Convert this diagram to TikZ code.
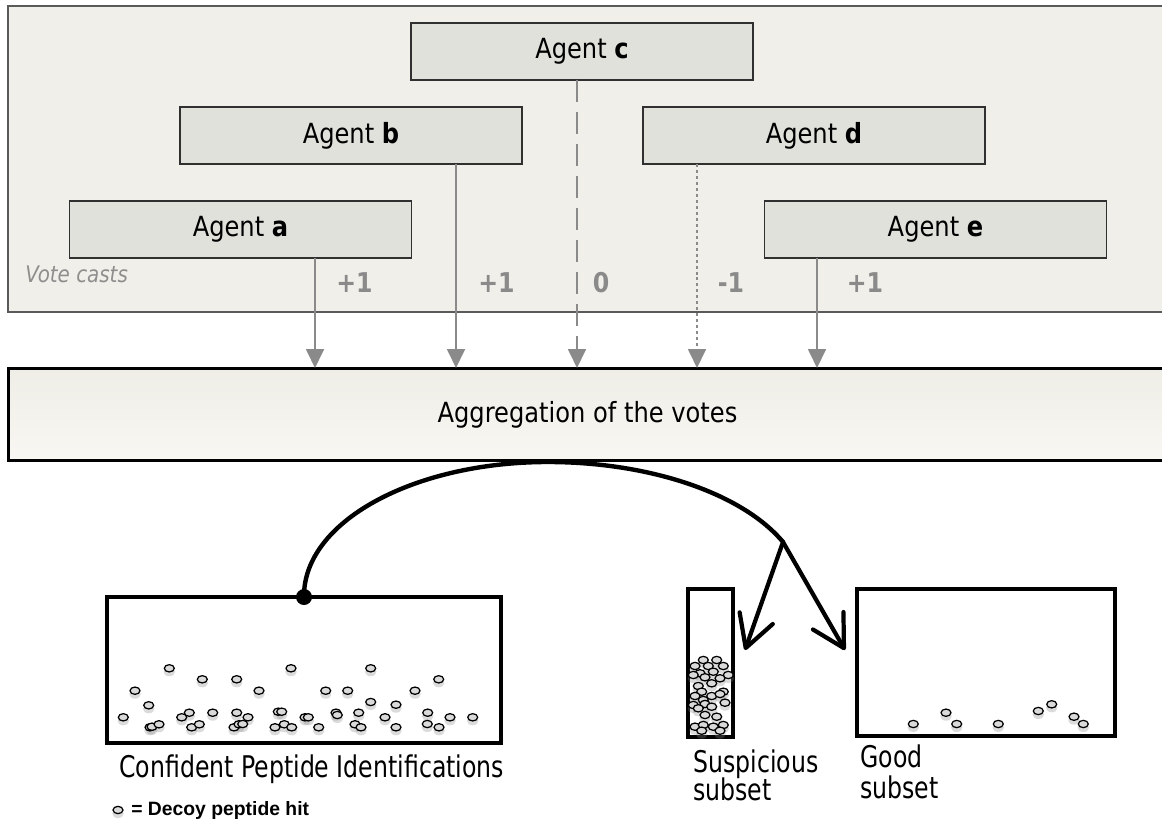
\documentclass[tikz,border=0pt]{standalone}
\usepackage{fontspec}
\setmainfont{DejaVu Sans}
\newfontfamily\topfont{DejaVu Sans}[FakeStretch=0.87]
\newfontfamily\botfont{DejaVu Sans}[FakeStretch=0.79]
\newfontfamily\legfont{Liberation Sans}
\usetikzlibrary{arrows.meta}
\definecolor{panelfill}{HTML}{F0EFE9}
\definecolor{panelline}{HTML}{5A5A5A}
\definecolor{agentfill}{HTML}{E1E1DC}
\definecolor{agentline}{HTML}{303030}
\definecolor{votegray}{HTML}{8A8A8A}
\definecolor{aggtop}{HTML}{EEEDE6}
\definecolor{aggbot}{HTML}{F8F7F3}
\definecolor{dotfill}{HTML}{DADADA}
\definecolor{dotshadow}{HTML}{8A8A8A}
\definecolor{castgray}{HTML}{8E8E8E}
\def\confdots{169.3/668.3,291/668.3,370.7/668.3,202.3/679.3,236.7/679.3,438.7/679.3,135/690.7,259/690.7,325.7/690.7,347.7/690.7,415/690.7,148.7/705.3,370.7/702,396/704.7,123.3/717.3,181.7/717.3,189.3/712.7,212.7/712.7,236.7/712.7,248/717.3,278.3/711.7,281.7/711.7,305/717.3,308.3/717.3,336/712.7,337.3/715,358.7/712.7,385/717.3,427.7/712.7,450/717.3,472.7/717.3,150/727.3,152/726.7,159/724.3,191.7/727.3,199.3/724.3,234/727.3,239/724.3,242.7/724,275/727.3,284.3/724.3,291.7/727.3,318.7/727.3,355/724.3,361/727.3,396/727.3,427.3/724,439/727.3}
\def\suspdots{703.3/660,716.7/660,695/666,708.3/666,723.3/666,700/673.3,713.3/671.7,693.3/675,705/677.3,728.3/675,720/678.3,698.3/686,711.7/683.3,701.7/691.7,723.3/691.7,695/696,711.7/696,720/694,703.3/700,693.3/705,705/704,725/702.7,698.3/708.3,711.7/706.7,705/715,716.7/716.7,695/726.7,703.3/725,713.3/726.7,723.3/725,701.7/730.7,720/730.7}
\def\gooddots{913.3/724,946/712.7,956.7/724,998.3/724,1038.3/711,1051.7/704.3,1074/716.7,1083.3/724}
\begin{document}
\begin{tikzpicture}[x=0.02cm,y=-0.02cm,
 panel/.style={draw=panelline, line width=0.85pt, fill=panelfill, inner sep=0pt, outer sep=0pt, minimum width=23.2cm, minimum height=6.12cm},
 agent/.style={draw=agentline, line width=0.85pt, fill=agentfill, inner sep=0pt, outer sep=0pt, minimum width=6.84cm, minimum height=1.14cm, font=\topfont\fontsize{15.8}{18}\selectfont},
 vote/.style={draw=votegray, line width=1.13pt, -{Triangle[length=10.8pt,width=10.2pt]}},
 votelbl/.style={text=votegray, font=\topfont\bfseries\fontsize{15.5}{18}\selectfont, inner sep=0pt, anchor=base},
 aggbox/.style={draw=black, line width=1.7pt, top color=aggtop, bottom color=aggbot, inner sep=0pt, outer sep=0pt, minimum width=23.18cm, minimum height=1.86cm, font=\topfont\fontsize{15.8}{18}\selectfont},
 setbox/.style={draw=black, line width=2.27pt, inner sep=0pt, outer sep=0pt},
 curveln/.style={line width=2.5pt, black, line cap=round},
 branch/.style={line width=2.4pt, line cap=round, -{Straight Barb[length=18pt,width=20pt,line cap=round,round]}},
 lbl/.style={font=\botfont\fontsize{17}{20}\selectfont, inner sep=0pt, anchor=base west},
 shadowa/.style={fill=dotshadow, opacity=0.3},
 decoydot/.style={draw=black, line width=0.7pt, fill=dotfill},
]
\useasboundingbox (0,0) rectangle (1162,827);
\clip (0,0) rectangle (1162,827);
\fill[white] (0,0) rectangle (1162,827);

% vote casting panel
\node[panel] (panel) at (588,159) {};
\node[agent] (agC) at (582,51.5) {Agent \textbf{c}};
\node[agent] (agB) at (351,135.5) {Agent \textbf{b}};
\node[agent] (agD) at (814,135.5) {Agent \textbf{d}};
\node[agent] (agA) at (240.5,229.5) {Agent \textbf{a}};
\node[agent] (agE) at (935.5,229.5) {Agent \textbf{e}};
\node[anchor=base west, text=castgray, inner sep=0pt, font=\topfont\itshape\fontsize{13}{15}\selectfont] (casts) at (25,283) {Vote casts};

% aggregation
\node[aggbox] (agg) at (587.5,414.5) {Aggregation of the votes};

% votes
\coordinate (xA) at (315,0);
\coordinate (xB) at (456,0);
\coordinate (xC) at (577,0);
\coordinate (xD) at (697,0);
\coordinate (xE) at (817,0);
\draw[vote] (agA.south -| xA) -- (agg.north -| xA);
\draw[vote] (agB.south -| xB) -- (agg.north -| xB);
\draw[vote, dash pattern=on 12.5pt off 5.7pt] (agC.south -| xC) -- (agg.north -| xC);
\draw[vote, dash pattern=on 1.7pt off 1.7pt] (agD.south -| xD) -- (agg.north -| xD);
\draw[vote] (agE.south -| xE) -- (agg.north -| xE);
\node[votelbl] (vA) at (354.5,293) {+1};
\node[votelbl] (vB) at (496.5,293) {+1};
\node[votelbl] (vC) at (601,293) {0};
\node[votelbl] (vD) at (731,293) {-1};
\node[votelbl] (vE) at (865,293) {+1};

% sets
\node[setbox, minimum width=7.88cm, minimum height=2.92cm] (conf) at (304,670) {};
\node[setbox, minimum width=0.9cm, minimum height=2.96cm] (susp) at (710.5,663) {};
\node[setbox, minimum width=5.16cm, minimum height=2.94cm] (good) at (986,662.5) {};

% decoy hits
\foreach \p/\q in \confdots {\fill[shadowa] (\p,\q+3.5) ellipse[x radius=0.115cm, y radius=0.09cm];}
\foreach \p/\q in \suspdots {\fill[shadowa] (\p,\q+3.5) ellipse[x radius=0.115cm, y radius=0.09cm];}
\foreach \p/\q in \gooddots {\fill[shadowa] (\p,\q+3.5) ellipse[x radius=0.115cm, y radius=0.09cm];}
\foreach \p/\q in \confdots {\draw[decoydot] (\p,\q) ellipse[x radius=0.1cm, y radius=0.073cm];}
\foreach \p/\q in \suspdots {\draw[decoydot] (\p,\q) ellipse[x radius=0.1cm, y radius=0.073cm];}
\foreach \p/\q in \gooddots {\draw[decoydot] (\p,\q) ellipse[x radius=0.1cm, y radius=0.073cm];}

% split curve
\coordinate (dot) at (conf.north);
\coordinate (peak) at (548,462);
\coordinate (split) at (783,542);
\coordinate (tipL) at (745,650);
\coordinate (tipR) at (845,650);
\draw[curveln] (dot) .. controls (303,522) and (413,462) .. (peak) .. controls (649,462) and (742,493) .. (split);
\fill (dot) circle (0.16cm);
\draw[branch] (split) -- (tipL);
\draw[branch] (split) -- (tipR);

% labels
\node[lbl] (confTxt) at (119,777) {Confident Peptide Identifications};
\node[lbl] (suspA) at (693,772) {Suspicious};
\node[lbl] (suspB) at (693,800) {subset};
\node[lbl] (goodA) at (860,767) {Good};
\node[lbl] (goodB) at (860,798) {subset};

% legend
\fill[shadowa] (118,813.5) ellipse[x radius=0.115cm, y radius=0.09cm];
\draw[decoydot] (118,810) ellipse[x radius=0.1cm, y radius=0.073cm];
\node[anchor=west, inner sep=0pt, font=\legfont\bfseries\fontsize{11}{12}\selectfont] (legend) at (131,810) {= Decoy peptide hit};
\end{tikzpicture}
\end{document}
